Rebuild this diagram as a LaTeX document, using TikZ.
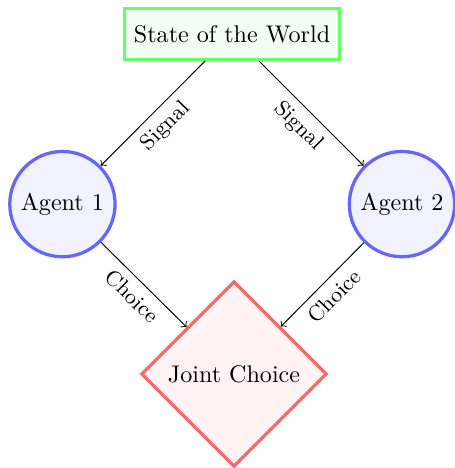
\documentclass[tikz,border=0pt]{standalone}
\usetikzlibrary{shapes.geometric}
\begin{document}
\begin{tikzpicture}[x=1pt,y=1pt,
 world/.style={rectangle, draw=green!60, fill=green!5, line width=1.35pt, minimum width=89.1pt, minimum height=21pt, inner sep=2pt},
 agent/.style={circle, draw=blue!60, fill=blue!5, line width=1.35pt, minimum size=43.7pt, inner sep=2pt},
 joint/.style={diamond, draw=red!60, fill=red!5, line width=1.35pt, minimum size=77pt, inner sep=1pt},
 conn/.style={->},
 lbl/.style={midway, sloped, below, font=\small}]
\useasboundingbox (0,0) rectangle (188.8,-194.2);
\node[world] (w) at (96.3,-14.1) {State of the World};
\node[agent] (a1) at (25.9,-84.7) {Agent 1};
\node[agent] (a2) at (166.8,-84.7) {Agent 2};
\node[joint] (j) at (97.1,-155.2) {Joint Choice};
\draw[conn] (w) -- node[lbl] {Signal} (a1);
\draw[conn] (w) -- node[lbl] {Signal} (a2);
\draw[conn] (a1) -- node[lbl] {Choice} (j);
\draw[conn] (a2) -- node[lbl] {Choice} (j);
\end{tikzpicture}
\end{document}
